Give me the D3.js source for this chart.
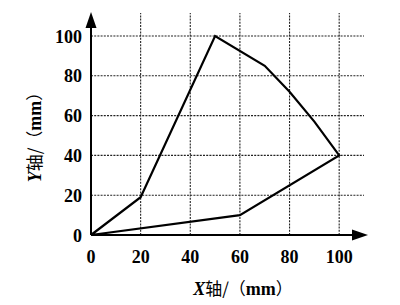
<!DOCTYPE html>
<html><head><meta charset="utf-8">
<script src="https://cdn.jsdelivr.net/npm/d3@7"></script>
<style>html,body{margin:0;padding:0;background:#fff;}</style>
</head><body>
<svg id="c" width="400" height="305"></svg>
<script>
const xTicks = [0, 20, 40, 60, 80, 100];
const yTicks = [0, 20, 40, 60, 80, 100];
const polyX = [0, 20, 50, 70, 80, 90, 100, 60, 0];
const polyY = [0, 19, 100, 85, 72, 57, 40, 10, 0];

const svg = d3.select("#c");
const x = d3.scaleLinear().domain([0, 110]).range([91, 364]);
const y = d3.scaleLinear().domain([0, 100]).range([235, 36]);
const yTop = 111.5;
const font = "'Liberation Serif','Times New Roman',serif";

// grid
const g = svg.append("g");
g.selectAll("line.v").data(xTicks.slice(1)).enter().append("line")
  .attr("x1", d => x(d)).attr("x2", d => x(d))
  .attr("y1", y(0)).attr("y2", y(yTop))
  .attr("stroke", "#222").attr("stroke-width", 1.1).attr("stroke-dasharray", "2,1.2");
g.selectAll("line.h").data(yTicks.slice(1)).enter().append("line")
  .attr("x1", x(0)).attr("x2", x(110))
  .attr("y1", d => y(d)).attr("y2", d => y(d))
  .attr("stroke", "#222").attr("stroke-width", 1.1).attr("stroke-dasharray", "2,1.2");

// axes
svg.append("line").attr("x1", x(0)).attr("x2", x(108)).attr("y1", y(0)).attr("y2", y(0))
  .attr("stroke", "#000").attr("stroke-width", 2);
svg.append("line").attr("x1", x(0)).attr("x2", x(0)).attr("y1", y(0)).attr("y2", y(106))
  .attr("stroke", "#000").attr("stroke-width", 2);
// arrows
const ax = x(0), ay = y(0);
svg.append("path").attr("d", `M${ax},12 L${ax-5.5},28 L${ax+5.5},28 Z`).attr("fill", "#000");
svg.append("path").attr("d", `M368,${ay} L352,${ay-5.5} L352,${ay+5.5} Z`).attr("fill", "#000");

// tick labels
svg.selectAll("text.xt").data(xTicks).enter().append("text")
  .attr("x", d => x(d)).attr("y", 263).attr("text-anchor", "middle")
  .attr("font-family", font).attr("font-weight", "bold").attr("font-size", 18)
  .text(d => d);
svg.selectAll("text.yt").data(yTicks).enter().append("text")
  .attr("x", 82).attr("y", d => y(d) + 6.5).attr("text-anchor", "end")
  .attr("font-family", font).attr("font-weight", "bold").attr("font-size", 18)
  .text(d => d);

// polygon
const pts = polyX.map((d, i) => [x(d), y(polyY[i])]);
svg.append("path").attr("d", d3.line()(pts))
  .attr("fill", "none").attr("stroke", "#000").attr("stroke-width", 2.2)
  .attr("stroke-linejoin", "miter");

// axis titles
const xl = svg.append("text").attr("x", 243).attr("y", 295).attr("text-anchor", "middle")
  .attr("font-family", font).attr("font-weight", "bold").attr("font-size", 18);
xl.append("tspan").attr("font-style", "italic").text("X");
xl.append("tspan").attr("font-family", "'Noto Sans CJK SC'").attr("font-weight", "normal").attr("font-size", 17).text("轴/（");
xl.append("tspan").text("mm");
xl.append("tspan").attr("font-family", "'Noto Sans CJK SC'").attr("font-weight", "normal").attr("font-size", 17).text("）");

const yl = svg.append("text").attr("transform", "translate(41,133) rotate(-90)").attr("text-anchor", "middle")
  .attr("font-family", font).attr("font-weight", "bold").attr("font-size", 18);
yl.append("tspan").attr("font-style", "italic").text("Y");
yl.append("tspan").attr("font-family", "'Noto Sans CJK SC'").attr("font-weight", "normal").attr("font-size", 17).text("轴/（");
yl.append("tspan").text("mm");
yl.append("tspan").attr("font-family", "'Noto Sans CJK SC'").attr("font-weight", "normal").attr("font-size", 17).text("）");
</script>
</body></html>
